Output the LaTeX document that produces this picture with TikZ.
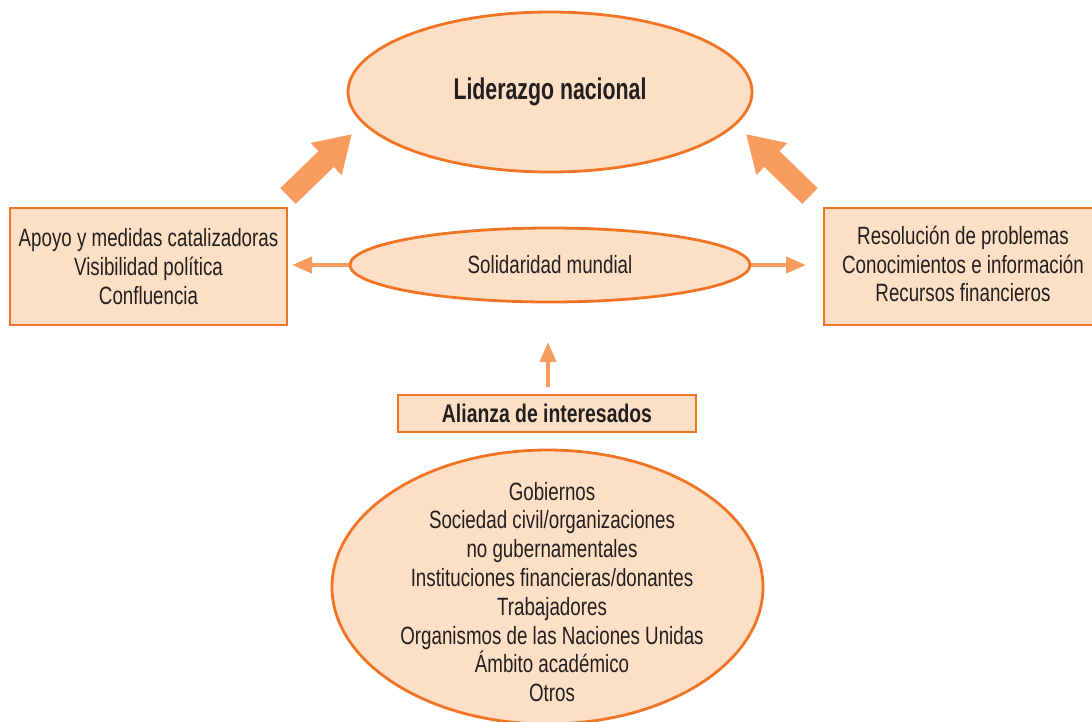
\documentclass[tikz,border=0pt]{standalone}
\usepackage{fontspec}
\setmainfont{Liberation Sans}[FakeStretch=0.75]
\newfontfamily\ldfont{Liberation Sans}[FakeStretch=0.71]
\newfontfamily\alfont{Liberation Sans}[FakeStretch=0.76]
\usetikzlibrary{shapes.geometric,arrows.meta}
\definecolor{peach}{HTML}{FDDFC6}
\definecolor{edge}{HTML}{F07424}
\definecolor{arr}{HTML}{F89B5E}
\definecolor{ink}{HTML}{231F20}
\tikzset{
  oval/.style={ellipse, draw=edge, fill=peach, line width=2.8pt, inner sep=0pt, align=center, text=ink},
  boxnode/.style={rectangle, draw=edge, fill=peach, line width=2.8pt, inner sep=0pt, align=center, text=ink},
  bigarrow/.style={arr, line width=22pt, -{Triangle[width=42pt,length=36pt]}},
  thinarrow/.style={arr, line width=4pt, -{Triangle[width=16pt,length=20pt]}},
  txt/.style={font=\fontsize{25}{28.8}\selectfont}
}
\begin{document}
\begin{tikzpicture}[x=1pt,y=-1pt]
\useasboundingbox (0,0) rectangle (1092,721);
\begin{scope}
\clip (0,0) rectangle (1092,721);
% top ellipse
\node[oval, minimum width=404pt, minimum height=160pt, font=\ldfont\bfseries\fontsize{30}{32}\selectfont] (lead) at (550,92) {Liderazgo nacional};
% middle ellipse
\node[oval, minimum width=400pt, minimum height=74pt, txt] (sol) at (550,265) {Solidaridad mundial};
% left box
\node[boxnode, minimum width=277pt, minimum height=117pt, txt] (left) at (148.5,266.5) {Apoyo y medidas catalizadoras\\Visibilidad política\\Confluencia};
% right box (cut at right edge)
\node[boxnode, minimum width=280pt, minimum height=117pt] (rightb) at (964,266.5) {};
\node[txt, text=ink, align=center] (righttxt) at (963,264) {Resolución de problemas\\Conocimientos e información\\Recursos financieros};
% alianza box
\node[boxnode, minimum width=298pt, minimum height=37pt, font=\alfont\bfseries\fontsize{25.5}{26}\selectfont] (ali) at (547,413.5) {Alianza de interesados};
% bottom ellipse
\node[oval, minimum width=431pt, minimum height=274pt] (bot) at (547.5,587) {};
\node[txt, text=ink, align=center] (bottxt) at (552,592) {Gobiernos\\Sociedad civil/organizaciones\\no gubernamentales\\Instituciones financieras/donantes\\Trabajadores\\Organismos de las Naciones Unidas\\Ámbito académico\\Otros};
% big arrows
\coordinate (lt) at (288,196);
\coordinate (lh) at (352,134);
\coordinate (rt) at (810,196);
\coordinate (rh) at (746,134);
\draw[bigarrow] (lt) -- (lh);
\draw[bigarrow] (rt) -- (rh);
% thin arrows
\coordinate (la) at (292,265);
\coordinate (ra) at (806,265);
\coordinate (ua) at (548,387);
\coordinate (ub) at (548,342);
\draw[thinarrow] (sol.west) -- (la);
\draw[thinarrow] (sol.east) -- (ra);
\draw[thinarrow] (ua) -- (ub);
\end{scope}
\end{tikzpicture}
\end{document}
